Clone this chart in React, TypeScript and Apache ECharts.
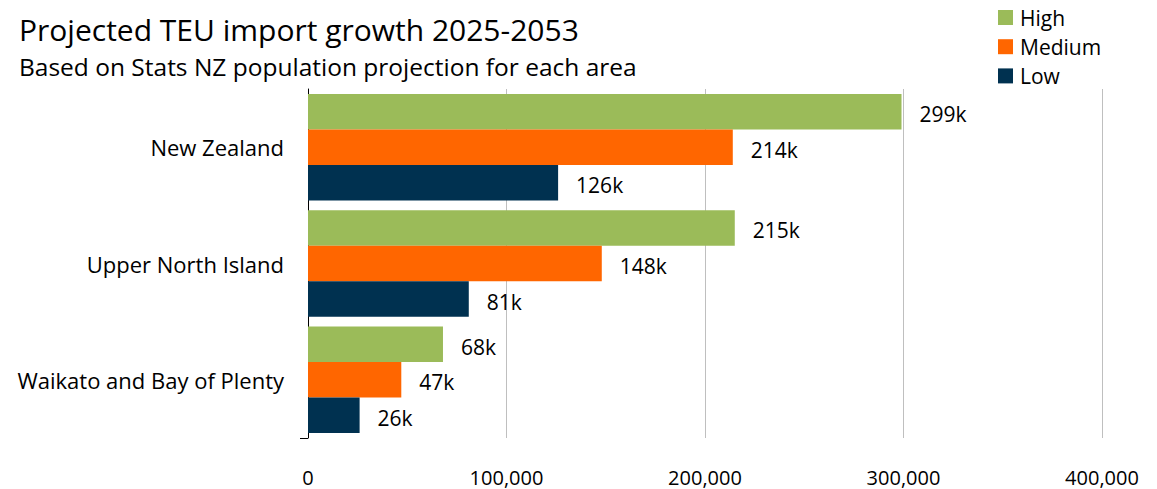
import React, { useEffect, useRef } from "react";
import * as echarts from "echarts";

const areas = ["New Zealand", "Upper North Island", "Waikato and Bay of Plenty"];
const high = [299000, 215000, 68000];
const medium = [214000, 148000, 47000];
const low = [126000, 81000, 26000];
const seriesNames = ["High", "Medium", "Low"];
const colors = ["#9bbb59", "#ff6600", "#003150"];
const xTicks = [0, 100000, 200000, 300000, 400000];

const FONT = "'Open Sans', 'Noto Sans', sans-serif";
const WIDTH = 1157;
const HEIGHT = 489;
const GRID = { left: 308, right: 55, top: 89, bottom: 51 };

const fmtK = (v: number) => `${Math.round(v / 1000)}k`;

export default function App() {
  const ref = useRef<HTMLDivElement>(null);

  useEffect(() => {
    if (!ref.current) return;
    const chart = echarts.init(ref.current, undefined, { renderer: "svg" });
    const values = [high, medium, low];
    const axisBottom = HEIGHT - GRID.bottom;
    chart.setOption({
      animation: false,
      textStyle: { fontFamily: FONT },
      title: [
        {
          text: "Projected TEU import growth 2025-2053",
          left: 14,
          top: 9,
          textStyle: { fontFamily: FONT, fontSize: 30, fontWeight: "normal", color: "#000" },
        },
        {
          text: "Based on Stats NZ population projection for each area",
          left: 14,
          top: 49,
          textStyle: { fontFamily: FONT, fontSize: 24.5, fontWeight: "normal", color: "#000" },
        },
      ],
      legend: {
        orient: "vertical",
        left: 998,
        top: 7,
        padding: 0,
        itemWidth: 15,
        itemHeight: 15,
        itemGap: 8.2,
        icon: "rect",
        textStyle: {
          fontFamily: FONT,
          fontSize: 21,
          lineHeight: 20,
          height: 20,
          color: "#000",
          padding: [0, 0, 0, 2],
        },
        data: seriesNames,
      },
      grid: { ...GRID, containLabel: false },
      xAxis: {
        type: "value",
        min: 0,
        max: xTicks[xTicks.length - 1],
        interval: 100000,
        axisLine: { show: false },
        axisTick: { show: false },
        axisLabel: {
          fontFamily: FONT,
          fontSize: 20,
          color: "#000",
          margin: 29,
          formatter: (v: number) => v.toLocaleString("en-US"),
        },
        splitLine: {
          lineStyle: { color: "#bfbfbf", width: 1 },
          showMinLine: false,
        },
      },
      yAxis: {
        type: "category",
        data: areas,
        inverse: true,
        axisLine: { show: true, lineStyle: { color: "#000", width: 1 } },
        axisTick: { show: false },
        axisLabel: { fontFamily: FONT, fontSize: 22, color: "#000", margin: 24 },
      },
      // closing tick at the foot of the category axis
      graphic: [
        {
          type: "line",
          shape: { x1: GRID.left - 8, y1: axisBottom + 0.5, x2: GRID.left, y2: axisBottom + 0.5 },
          style: { stroke: "#000", lineWidth: 1 },
          silent: true,
        },
      ],
      series: seriesNames.map((name, i) => ({
        name,
        type: "bar",
        data: values[i],
        barGap: "0%",
        barCategoryGap: "8.4%",
        itemStyle: { color: colors[i] },
        label: {
          show: true,
          position: "right",
          distance: 18,
          offset: [0, 2.5],
          fontFamily: FONT,
          fontSize: 21,
          color: "#000",
          formatter: (p: any) => fmtK(p.value),
        },
      })),
    });
    return () => chart.dispose();
  }, []);

  return (
    <div
      ref={ref}
      style={{ position: "absolute", left: 0, top: 0, width: WIDTH, height: HEIGHT }}
    />
  );
}
